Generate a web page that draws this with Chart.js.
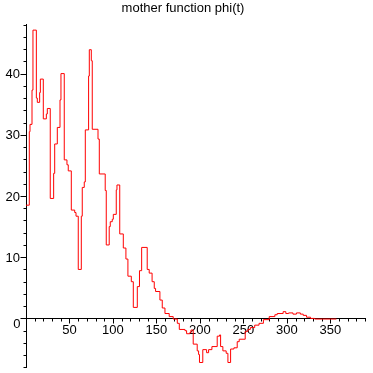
<!DOCTYPE html>
<html>
<head>
<meta charset="utf-8">
<script src="https://cdn.jsdelivr.net/npm/chart.js@4/dist/chart.umd.min.js"></script>
<style>
  html, body { margin: 0; padding: 0; background: #fff; }
  #wrap { width: 373px; height: 373px; }
</style>
</head>
<body>
<div id="wrap"><canvas id="phiChart" width="373" height="373"></canvas></div>
<script>
// step start positions (t) and the value held from there on
const stepStart = [0, 3.8, 4.6, 6.9, 8.0, 11.9, 13.0, 15.7, 16.5, 19.9, 23.4, 24.5, 27.9, 31.8, 33.0, 36.0,
    39.1, 40.2, 44.0, 47.1, 48.6, 52.1, 56.0, 57.5, 60.1, 63.6, 64.7, 67.0, 68.2, 72.0, 72.8, 75.1, 76.2,
    82.8, 84.3, 91.1, 92.3, 95.7, 96.9, 99.2, 100.4, 103.8, 104.6, 107.8, 111.9, 114.9, 117.2, 121.1, 123.4,
    128.0, 130.5, 133.0, 139.4, 141.7, 145.0, 147.5, 149.0, 154.0, 156.7, 159.8, 164.7, 169.3, 174.0, 176.3,
    182.8, 184.7, 188.5, 189.7, 192.3, 196.9, 198.5, 199.5, 203.3, 207.7, 210.0, 213.8, 219.9, 222.6, 223.8,
    226.4, 230.2, 232.2, 235.3, 239.1, 242.9, 245.2, 252.1, 255.2, 258, 263, 268, 273, 279.7, 286.2, 288.9,
    295.7, 298.8, 302, 307, 311, 315.5, 318.8, 322.6, 327.2, 332, 357];
const stepValue = [18.5, 30.5, 31.7, 37.3, 47.1, 36.0, 35.3, 36.9, 39.1, 32.6, 33.4, 34.3, 19.6, 23.7, 28.5, 31.2,
    35.7, 40.0, 25.9, 25.1, 24.1, 17.7, 17.3, 16.7, 8.0, 16.7, 21.4, 22.3, 30.8, 39.6, 43.9, 42.1, 30.9,
    29.3, 23.6, 20.9, 12.0, 15.0, 15.8, 16.2, 17.0, 21.0, 21.8, 13.8, 11.5, 9.7, 6.9, 6.0, 1.8,
    5.2, 7.8, 11.6, 8.0, 7.4, 6.0, 4.9, 4.4, 3.0, 1.7, 0.8, 0.3, -0.1, -0.8, -1.8,
    -2.0, -2.5, -2.3, -1.9, -4.2, -5.3, -5.9, -7.2, -5.1, -5.6, -5.1, -4.6, -2.9, -2.7, -4.6,
    -5.3, -5.7, -7.2, -5.0, -4.8, -3.8, -3.4, -2.1, -1.8, -1.5, -1.1, -0.8, -0.2, 0.3, 0.6, 0.8,
    1.1, 0.8, 0.9, 0.7, 0.9, 0.7, 0.5, 0.2, 0.0, -0.1, -0.1];

// axis ranges and tick spacing
const xRange = [0, 391];
const yRange = [-8.1, 48.1];
const xTickStep = 10, xLabelStep = 50;
const yTickStep = 2, yLabelStep = 10;

const points = stepStart.map((t, i) => ({ x: t, y: stepValue[i] }));
const fontFamily = '"Liberation Sans", Arial, sans-serif';

// draws the crossing axes with major/minor tick marks, plus the origin "0"
const crossAxes = {
    id: 'crossAxes',
    beforeDatasetsDraw(chart) {
        const ctx = chart.ctx;
        const xs = chart.scales.x, ys = chart.scales.y;
        const x0 = Math.round(xs.getPixelForValue(0)) + 0.5;
        const y0 = Math.round(ys.getPixelForValue(0)) + 0.5;
        ctx.save();
        ctx.strokeStyle = '#000';
        ctx.lineWidth = 1;
        ctx.beginPath();
        ctx.moveTo(xs.left, y0); ctx.lineTo(xs.right, y0);
        ctx.moveTo(x0, ys.top); ctx.lineTo(x0, ys.bottom);
        for (let v = xTickStep; v < xRange[1]; v += xTickStep) {
            const px = Math.round(xs.getPixelForValue(v)) + 0.5;
            ctx.moveTo(px, y0);
            ctx.lineTo(px, y0 + (v % xLabelStep === 0 ? 5 : 3));
        }
        for (let v = Math.ceil(yRange[0] / yTickStep) * yTickStep; v <= yRange[1]; v += yTickStep) {
            const py = Math.round(ys.getPixelForValue(v)) + 0.5;
            ctx.moveTo(x0, py);
            ctx.lineTo(x0 - (v % yLabelStep === 0 ? 6 : 3), py);
        }
        ctx.stroke();
        ctx.fillStyle = '#000';
        ctx.font = '13px ' + fontFamily;
        ctx.textAlign = 'right';
        ctx.textBaseline = 'middle';
        ctx.fillText('0', x0 - 6, y0 + 6);
        ctx.restore();
    }
};

new Chart(document.getElementById('phiChart'), {
    type: 'line',
    data: {
        datasets: [{
            data: points,
            stepped: 'before',
            borderColor: '#ff0000',
            borderWidth: 1,
            pointRadius: 0,
            fill: false
        }]
    },
    options: {
        responsive: false,
        animation: false,
        layout: { padding: { left: 0, right: 7, top: 0, bottom: 5 }, autoPadding: false },
        plugins: {
            legend: { display: false },
            tooltip: { enabled: false },
            title: {
                display: true,
                text: 'mother function phi(t)',
                color: '#000',
                font: { family: fontFamily, size: 13, weight: 'normal' },
                padding: { top: 1, bottom: 7.4 }
            }
        },
        scales: {
            x: {
                type: 'linear',
                position: { y: 0 },
                min: xRange[0],
                max: xRange[1],
                grid: { display: false, drawTicks: false },
                border: { display: false },
                ticks: {
                    stepSize: xTickStep,
                    autoSkip: false,
                    maxRotation: 0,
                    padding: 4,
                    color: '#000',
                    font: { family: fontFamily, size: 13 },
                    callback: v => (v > 0 && Math.abs(v % xLabelStep) < 1e-6) ? String(v) : null
                }
            },
            y: {
                type: 'linear',
                position: 'left',
                min: yRange[0],
                max: yRange[1],
                afterFit: scale => { scale.width = 26; },
                // tickLength only offsets the labels; the marks come from crossAxes
                grid: { display: false, drawTicks: true, tickLength: 1 },
                border: { display: false },
                ticks: {
                    stepSize: yTickStep,
                    autoSkip: false,
                    padding: 5,
                    labelOffset: 1,
                    color: '#000',
                    font: { family: fontFamily, size: 13, lineHeight: 0 },
                    callback: v => (Math.abs(v) > 1e-6 && Math.abs(v % yLabelStep) < 1e-6) ? String(Math.round(v)) : null
                }
            }
        }
    },
    plugins: [crossAxes]
});
</script>
</body>
</html>
